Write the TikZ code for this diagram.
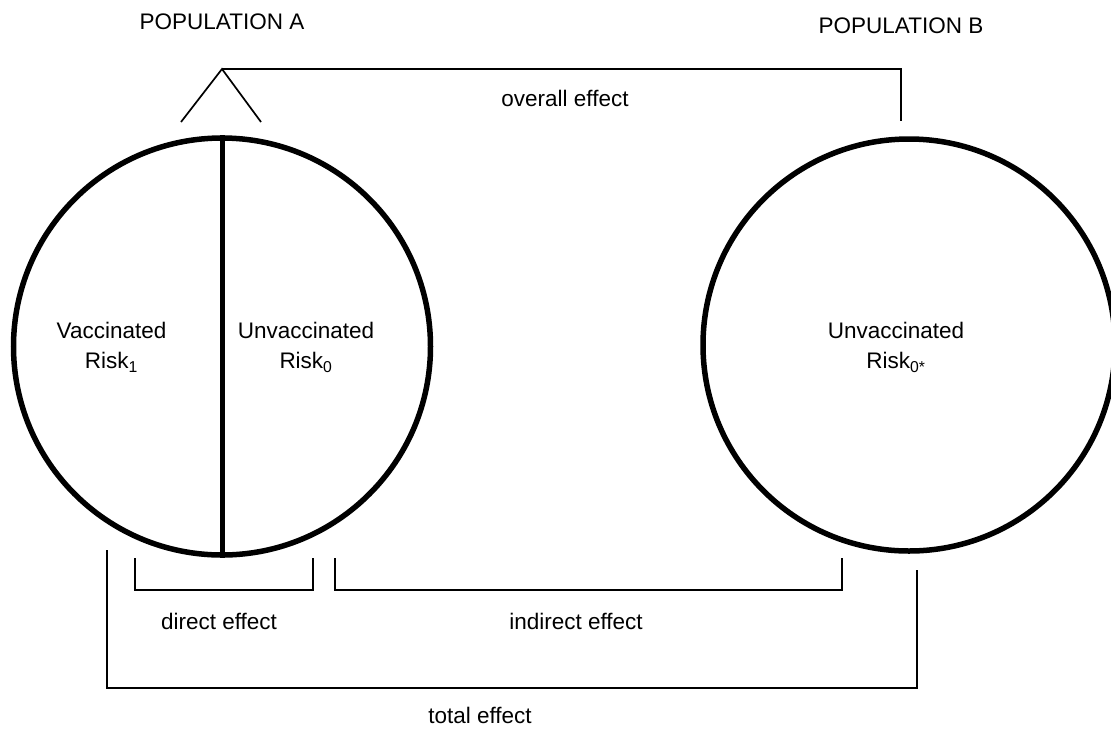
\documentclass[tikz,border=0pt]{standalone}
\usepackage{fontspec}
\setmainfont{Liberation Sans}
\begin{document}
\begin{tikzpicture}[x=1pt,y=-1pt,
  ring/.style={draw, line width=5.5pt, circle, inner sep=0pt},
  bracket/.style={line width=1.7pt, line join=miter},
  lbl/.style={font=\fontsize{22.5}{30}\selectfont, align=center, inner sep=0pt}]
\useasboundingbox (0,0) rectangle (1111,732);

% the two populations
\node[ring, minimum size=417pt] (popA) at (222,346.5) {};
\node[ring, minimum size=412pt] (popB) at (909,345) {};
\draw[line width=5pt] (popA.north) -- (popA.south);

% population headings
\node[lbl] (headA) at (222,22) {POPULATION A};
\node[lbl] (headB) at (901,26) {POPULATION B};

% group labels inside the circles
\node[lbl] (vacc) at (111.5,347) {Vaccinated\\Risk\textsubscript{1}};
\node[lbl] (unvA) at (306,347) {Unvaccinated\\Risk\textsubscript{0}};
\node[lbl] (unvB) at (896,347) {Unvaccinated\\Risk\textsubscript{0*}};

% overall effect: whole of population A against population B
\coordinate (apex) at (222,69);
\coordinate (legL) at (181,122);
\coordinate (legR) at (261,122);
\coordinate (ovTop) at (901,69);
\coordinate (ovEnd) at (901,121);
\draw[bracket] (legL) -- (apex) -- (legR);
\draw[bracket] (apex) -- (ovTop) -- (ovEnd);
\node[lbl] (overall) at (565,98) {overall effect};

% direct effect
\coordinate (dA) at (135,558);
\coordinate (dB) at (313,558);
\draw[bracket] (dA) -- (dA |- 0,590) -- (dB |- 0,590) -- (dB);
\node[lbl] (direct) at (219,621) {direct effect};

% indirect effect
\coordinate (iA) at (335,558);
\coordinate (iB) at (842,558);
\draw[bracket] (iA) -- (iA |- 0,590) -- (iB |- 0,590) -- (iB);
\node[lbl] (indirect) at (576,621) {indirect effect};

% total effect
\coordinate (tA) at (107,550);
\coordinate (tB) at (917,570);
\draw[bracket] (tA) -- (tA |- 0,688) -- (tB |- 0,688) -- (tB);
\node[lbl] (total) at (480,715) {total effect};
\end{tikzpicture}
\end{document}
